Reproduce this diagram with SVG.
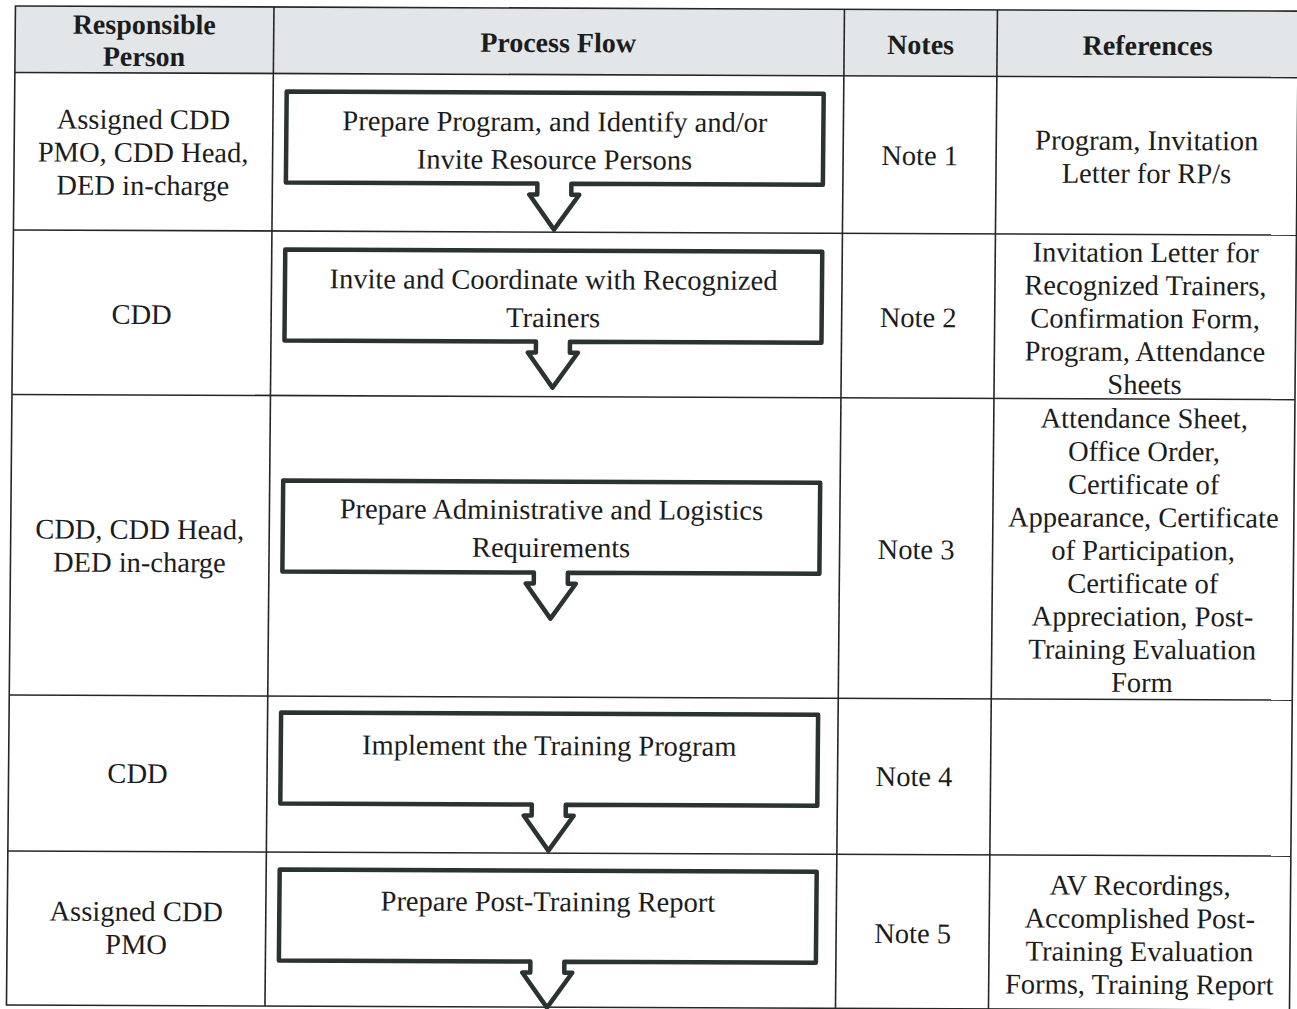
<svg xmlns="http://www.w3.org/2000/svg" width="1297" height="1009" viewBox="0 0 1297 1009">
  <style>
    .grid { stroke: #262626; stroke-width: 1.6; fill: none; }
    .hdr { fill: #e3e6e8; }
    .flow { fill: #ffffff; stroke: #2a3332; stroke-width: 4.5; stroke-linejoin: round; }
    text { font-family: "Liberation Serif", "Times New Roman", serif; font-size: 28.5px; fill: #1c1c1c; text-anchor: middle; }
    .th { font-weight: bold; font-size: 28px; }
  </style>
  <rect x="0" y="0" width="1297" height="1009" fill="#ffffff"/>
  <!-- the scanned sheet sits slightly skewed -->
  <g transform="matrix(1 0.004 -0.009 1 4.536 -2.592)">
    <!-- table frame -->
    <g id="table">
      <rect class="hdr" x="11" y="8.5" width="1283" height="66.5"/>
      <rect class="grid" x="11" y="8.5" width="1283" height="999"/>
      <line class="grid" x1="11" y1="75" x2="1294" y2="75"/>
      <line class="grid" x1="11" y1="232.5" x2="1294" y2="232.5"/>
      <line class="grid" x1="11" y1="397" x2="1294" y2="397"/>
      <line class="grid" x1="11" y1="697.5" x2="1294" y2="697.5"/>
      <line class="grid" x1="11" y1="853.5" x2="1294" y2="853.5"/>
      <line class="grid" x1="269.5" y1="8.5" x2="269.5" y2="1007.5"/>
      <line class="grid" x1="840" y1="8.5" x2="840" y2="1007.5"/>
      <line class="grid" x1="993" y1="8.5" x2="993" y2="1007.5"/>
    </g>

    <!-- column headings -->
    <g id="header">
      <text class="th" x="140" y="36">Responsible</text>
      <text class="th" x="140" y="68">Person</text>
      <text class="th" x="554" y="52.5">Process Flow</text>
      <text class="th" x="916.5" y="53">Notes</text>
      <text class="th" x="1143.5" y="53">References</text>
    </g>

    <!-- process steps: box with downward arrow outlet -->
    <g id="connectors"/>

    <g id="step1">
      <path class="flow" d="M283 93 H820 V184 H568.5 V195 H576.5 L551.5 230 L526.5 195 H534.5 V184 H283 Z"/>
      <text x="551.5" y="131.5">Prepare Program, and Identify and/or</text>
      <text x="551.5" y="169.5">Invite Resource Persons</text>
    </g>
    <g id="step2">
      <path class="flow" d="M283 251 H820 V342 H568.5 V353 H576.5 L551.5 388 L526.5 353 H534.5 V342 H283 Z"/>
      <text x="551.5" y="289.5">Invite and Coordinate with Recognized</text>
      <text x="551.5" y="327.5">Trainers</text>
    </g>
    <g id="step3">
      <path class="flow" d="M283 482 H820 V573 H568.5 V584 H576.5 L551.5 619 L526.5 584 H534.5 V573 H283 Z"/>
      <text x="551.5" y="519.5">Prepare Administrative and Logistics</text>
      <text x="551.5" y="557.5">Requirements</text>
    </g>
    <g id="step4">
      <path class="flow" d="M283 714 H820 V805 H568.5 V816 H576.5 L551.5 851 L526.5 816 H534.5 V805 H283 Z"/>
      <text x="551.5" y="755.5">Implement the Training Program</text>
    </g>
    <g id="step5">
      <path class="flow" d="M283 871 H820 V962 H568.5 V973 H576.5 L551.5 1008 L526.5 973 H534.5 V962 H283 Z"/>
      <text x="551.5" y="911.5">Prepare Post-Training Report</text>
    </g>

    <!-- responsible persons -->
    <g id="persons">
      <text x="140" y="131">Assigned CDD</text>
      <text x="140" y="164">PMO, CDD Head,</text>
      <text x="140" y="197">DED in-charge</text>
      <text x="140" y="326">CDD</text>
      <text x="140" y="541">CDD, CDD Head,</text>
      <text x="140" y="574">DED in-charge</text>
      <text x="140" y="785">CDD</text>
      <text x="140" y="923">Assigned CDD</text>
      <text x="140" y="956">PMO</text>
    </g>

    <!-- notes -->
    <g id="notes">
      <text x="916.5" y="164">Note 1</text>
      <text x="916.5" y="326">Note 2</text>
      <text x="916.5" y="558">Note 3</text>
      <text x="916.5" y="785">Note 4</text>
      <text x="916.5" y="942">Note 5</text>
    </g>

    <!-- references -->
    <g id="references">
      <text x="1143.5" y="148">Program, Invitation</text>
      <text x="1143.5" y="181">Letter for RP/s</text>

      <text x="1143.5" y="260">Invitation Letter for</text>
      <text x="1143.5" y="293">Recognized Trainers,</text>
      <text x="1143.5" y="326">Confirmation Form,</text>
      <text x="1143.5" y="359">Program, Attendance</text>
      <text x="1143.5" y="392">Sheets</text>

      <text x="1143.5" y="426">Attendance Sheet,</text>
      <text x="1143.5" y="459">Office Order,</text>
      <text x="1143.5" y="492">Certificate of</text>
      <text x="1143.5" y="525">Appearance, Certificate</text>
      <text x="1143.5" y="558">of Participation,</text>
      <text x="1143.5" y="591">Certificate of</text>
      <text x="1143.5" y="624">Appreciation, Post-</text>
      <text x="1143.5" y="657">Training Evaluation</text>
      <text x="1143.5" y="690">Form</text>

      <text x="1143.5" y="893">AV Recordings,</text>
      <text x="1143.5" y="926">Accomplished Post-</text>
      <text x="1143.5" y="959">Training Evaluation</text>
      <text x="1143.5" y="992">Forms, Training Report</text>
    </g>
  </g>
</svg>
